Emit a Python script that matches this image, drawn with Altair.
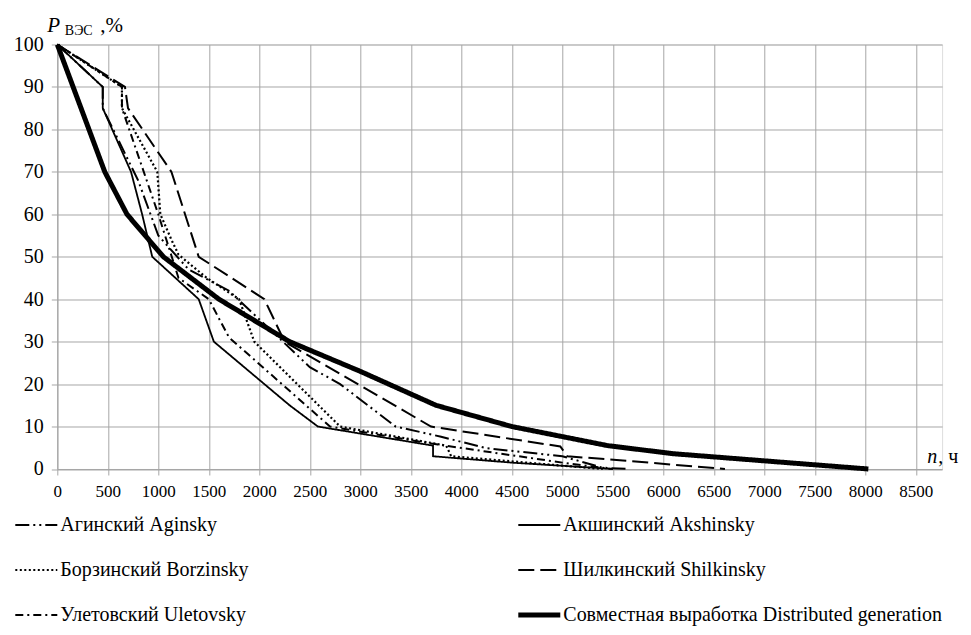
import altair as alt
import pandas as pd

names = [
    "Агинский Aginsky",
    "Акшинский Akshinsky",
    "Борзинский Borzinsky",
    "Шилкинский Shilkinsky",
    "Улетовский Uletovsky",
    "Совместная выработка Distributed generation",
]

# hours (n, ч) and power (P, %)
aginsky_h = [0, 450, 450, 800, 1000, 1300, 1700, 2500, 2800, 3350, 3800, 4250, 5000, 5400, 5660]
aginsky_p = [100, 90, 85, 68, 55, 47, 42, 24, 20, 10, 7.6, 4.9, 3, 0.3, 0]

akshinsky_h = [0, 450, 450, 730, 840, 940, 1400, 1550, 2300, 2580, 3720, 3720, 4500, 5500]
akshinsky_p = [100, 90, 85, 70, 60, 50, 40, 30, 15, 10, 5.5, 3, 1.5, 0]

borzinsky_h = [0, 640, 640, 990, 1020, 1130, 1200, 1480, 1800, 1950, 2800, 3850, 3900, 5400]
borzinsky_p = [100, 90, 85, 70, 60, 54, 50.5, 45, 40, 30, 10, 5.5, 3, 0]

shilkinsky_h = [0, 670, 700, 1130, 1400, 2050, 2250, 3700, 4980, 5050, 5600, 6610]
shilkinsky_p = [100, 90, 85, 70, 50, 40, 30, 10, 5.3, 3, 2, 0]

uletovsky_h = [0, 640, 640, 1000, 1200, 1500, 1700, 2700, 3700, 5000, 5500]
uletovsky_p = [100, 90, 85, 60, 45, 40, 31, 10, 6, 1.5, 0]

distributed_h = [0, 470, 690, 1050, 1600, 2300, 3000, 3750, 4500, 5450, 6100, 8030]
distributed_p = [100, 70, 60, 50, 40, 30, 23, 15, 10, 5.5, 3.6, 0]

x_ticks = list(range(0, 9000, 500))
y_ticks = list(range(0, 101, 10))

series = [
    (aginsky_h, aginsky_p),
    (akshinsky_h, akshinsky_p),
    (borzinsky_h, borzinsky_p),
    (shilkinsky_h, shilkinsky_p),
    (uletovsky_h, uletovsky_p),
    (distributed_h, distributed_p),
]

FONT = "Times New Roman, Liberation Serif, serif"
GRID = "#a6a6a6"

dashes = [[14, 4, 2, 4, 2, 4], [1, 0], [2, 2.5], [16, 6], [8, 4, 2, 4], [1, 0]]
widths = [2, 1.8, 2.2, 2, 2, 5]

x_scale = alt.Scale(domain=[0, 8760], nice=False, zero=False)
y_scale = alt.Scale(domain=[0, 100], nice=False)

x_axis = alt.Axis(
    values=x_ticks, title=None, grid=True, gridColor=GRID, gridOpacity=1,
    domainColor=GRID, tickColor=GRID, tickSize=6, labelFont=FONT,
    labelFontSize=17, labelColor="black", labelPadding=9,
    labelOverlap=False, labelFlush=False, format="d",
)
y_axis = alt.Axis(
    values=y_ticks, title=None, grid=True, gridColor=GRID, gridOpacity=1,
    domainColor=GRID, tickColor=GRID, tickSize=6, labelFont=FONT,
    labelFontSize=20, labelColor="black", labelPadding=8, format="d",
)

layers = []
for k, (name, (hs, ps)) in enumerate(zip(names, series)):
    d = pd.DataFrame({"h": hs, "p": ps, "i": list(range(len(hs)))})
    layers.append(
        alt.Chart(d).mark_line(
            color="black", strokeWidth=widths[k], strokeDash=dashes[k], strokeJoin="miter"
        ).encode(
            x=alt.X("h:Q", scale=x_scale, axis=x_axis),
            y=alt.Y("p:Q", scale=y_scale, axis=y_axis),
            order="i:Q",
        )
    )

# manual legend, 2 columns x 3 rows (below the x axis)
for k, name in enumerate(names):
    col, row = k % 2, k // 2
    x1 = -42 + col * 503
    ld = pd.DataFrame({"x1": [x1], "x2": [x1 + 42], "tx": [x1 + 45], "y": [480.5 + row * 45], "t": [name]})
    layers.append(
        alt.Chart(ld).mark_rule(color="black", strokeWidth=widths[k], strokeDash=dashes[k]).encode(
            x=alt.X("x1:Q", scale=None), x2="x2:Q", y=alt.Y("y:Q", scale=None)
        )
    )
    layers.append(
        alt.Chart(ld).mark_text(
            align="left", baseline="middle", font=FONT, fontSize=20, color="black"
        ).encode(x=alt.X("tx:Q", scale=None), y=alt.Y("y:Q", scale=None), text="t:N")
    )


def label(t, x, y, size, italic=False):
    kw = dict(align="left", baseline="alphabetic", font=FONT, fontSize=size, color="black")
    if italic:
        kw["fontStyle"] = "italic"
    return alt.Chart(pd.DataFrame({"t": [t]})).mark_text(**kw).encode(
        x=alt.value(x), y=alt.value(y), text="t:N"
    )


layers += [
    label("P", -10, -12.5, 21, True),
    label("ВЭС", 7.5, -9.5, 14),
    label(",%", 43, -12.5, 21),
    label("n", 870, 418.5, 20, True),
    label(", ч", 881, 418.5, 20),
]

chart = alt.layer(*layers).properties(
    width=884.8,
    height=424.5,
    autosize=alt.AutoSizeParams(type="none"),
    padding={"left": 49.3, "top": 36.5, "right": 20, "bottom": 158},
).configure_view(strokeWidth=0).configure(background="white")

chart.save("out.html", embed_options={"renderer": "svg", "actions": False})
